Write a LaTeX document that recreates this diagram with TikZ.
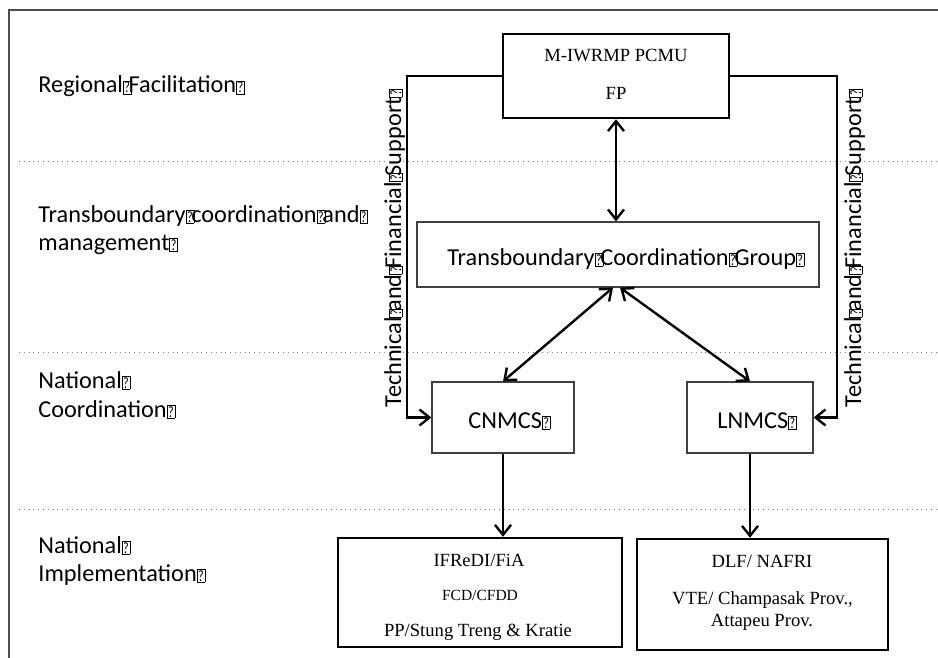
\documentclass[tikz,border=0pt]{standalone}
\usepackage{fontspec}
\usepackage{graphicx}
\usetikzlibrary{calc,arrows.meta}
\setmainfont{Liberation Serif}
\newfontfamily\calibri{Carlito}

% the small boxed ? that stands in place of the spaces
\newcommand{\qb}{\makebox[0.23em][l]{\fboxsep=0.4pt\fboxrule=0.3pt\fbox{\scalebox{0.5}[0.65]{?}}}}

\tikzset{
  band/.style={gray, dotted, line width=0.4pt},
  lbl/.style={font=\calibri\fontsize{12.15}{14}\selectfont, anchor=base west, inner sep=0pt},
  serif/.style={font=\fontsize{9.3}{11}\selectfont, anchor=base, inner sep=0pt},
  thinbox/.style={rectangle, draw=black!75, line width=0.6pt},
  thickbox/.style={rectangle, draw=black, line width=1.2pt},
  twoway/.style={line width=1.2pt, {Straight Barb[length=5pt,width=8pt]}-{Straight Barb[length=5pt,width=8pt]}},
  oneway/.style={line width=1.2pt, -{Straight Barb[length=5pt,width=8pt]}},
}

\begin{document}
\begin{tikzpicture}[x=0.5pt, y=-0.5pt]
            \useasboundingbox (0,0) rectangle (938,658);
            \draw[black!70, line width=0.8pt] (938,10) -- (9,10) -- (9,658);

            \draw[band] (19,161) -- (938,161);
            \draw[band] (19,352) -- (938,352);
            \draw[band] (19,509) -- (938,509);

            \node[lbl] (reg) at (38,93) {Regional\qb Facilitation\qb};
            \node[lbl] (trans1) at (38,222) {Transboundary\qb coordination\qb and\qb};
            \node[lbl] (trans2) at (38,250) {management\qb};
            \node[lbl] (natco1) at (38,388) {National\qb};
            \node[lbl] (natco2) at (38,417) {Coordination\qb};
            \node[lbl] (natim1) at (38,553) {National\qb};
            \node[lbl] (natim2) at (38,581) {Implementation\qb};

            \node[thickbox, minimum width=113pt, minimum height=42pt] (pcmu) at (616,76) {};
            \node[thinbox, minimum width=201pt, minimum height=32.5pt] (tcg) at (618,254.5) {};
            \node[thinbox, minimum width=71pt, minimum height=35.5pt] (cnmcs) at (503,417.5) {};
            \node[thinbox, minimum width=63pt, minimum height=35.5pt] (lnmcs) at (750,417.5) {};
            \node[thickbox, minimum width=142pt, minimum height=54.5pt] (ifredi) at (480,592.5) {};
            \node[thickbox, minimum width=125.5pt, minimum height=55.5pt] (dlf) at (762.5,594.5) {};

            \node[serif] (pcmu-a) at (616,62) {M-IWRMP PCMU};
            \node[serif] (pcmu-b) at (616,100) {FP};
            \node[lbl] (tcg-a) at (447,265) {Transboundary\qb Coordination\qb Group\qb};
            \node[lbl] (cnmcs-a) at (468,428) {CNMCS\qb};
            \node[lbl] (lnmcs-a) at (717,428) {LNMCS\qb};
            \node[serif] (ifredi-a) at (479,566) {IFReDI/FiA};
            \node[serif, font=\fontsize{7.75}{9}\selectfont] (ifredi-b) at (480,600) {FCD/CFDD};
            \node[serif] (ifredi-c) at (478,636) {PP/Stung Treng \& Kratie};
            \node[serif] (dlf-a) at (762,567) {DLF/ NAFRI};
            \node[serif] (dlf-b) at (762.5,604) {VTE/ Champasak Prov.,};
            \node[serif] (dlf-c) at (762,626) {Attapeu Prov.};

            \node[lbl, rotate=90] (lsup-t) at (401,408) {Technical\qb and\qb Financial\qb Support\qb};
            \node[lbl, rotate=90] (rsup-t) at (861,408) {Technical\qb and\qb Financial\qb Support\qb};

            \draw[twoway] (pcmu.south) -- (pcmu.south |- tcg.north);
            \draw[twoway] ($(tcg.south)+(-5,0)$) -- (cnmcs.north);
            \draw[twoway] ($(tcg.south)+(2,0)$) -- (lnmcs.north);
            \draw[oneway] (cnmcs.south) -- (cnmcs.south |- ifredi.north);
            \draw[oneway] (lnmcs.south) -- (lnmcs.south |- dlf.north);

            \coordinate (lsup) at (407,250);
            \coordinate (rsup) at (837,250);
            \draw[oneway] (pcmu.west) -| (lsup) |- (cnmcs.west);
            \draw[oneway] (pcmu.east) -| (rsup) |- (lnmcs.east);
        \end{tikzpicture}
\end{document}
